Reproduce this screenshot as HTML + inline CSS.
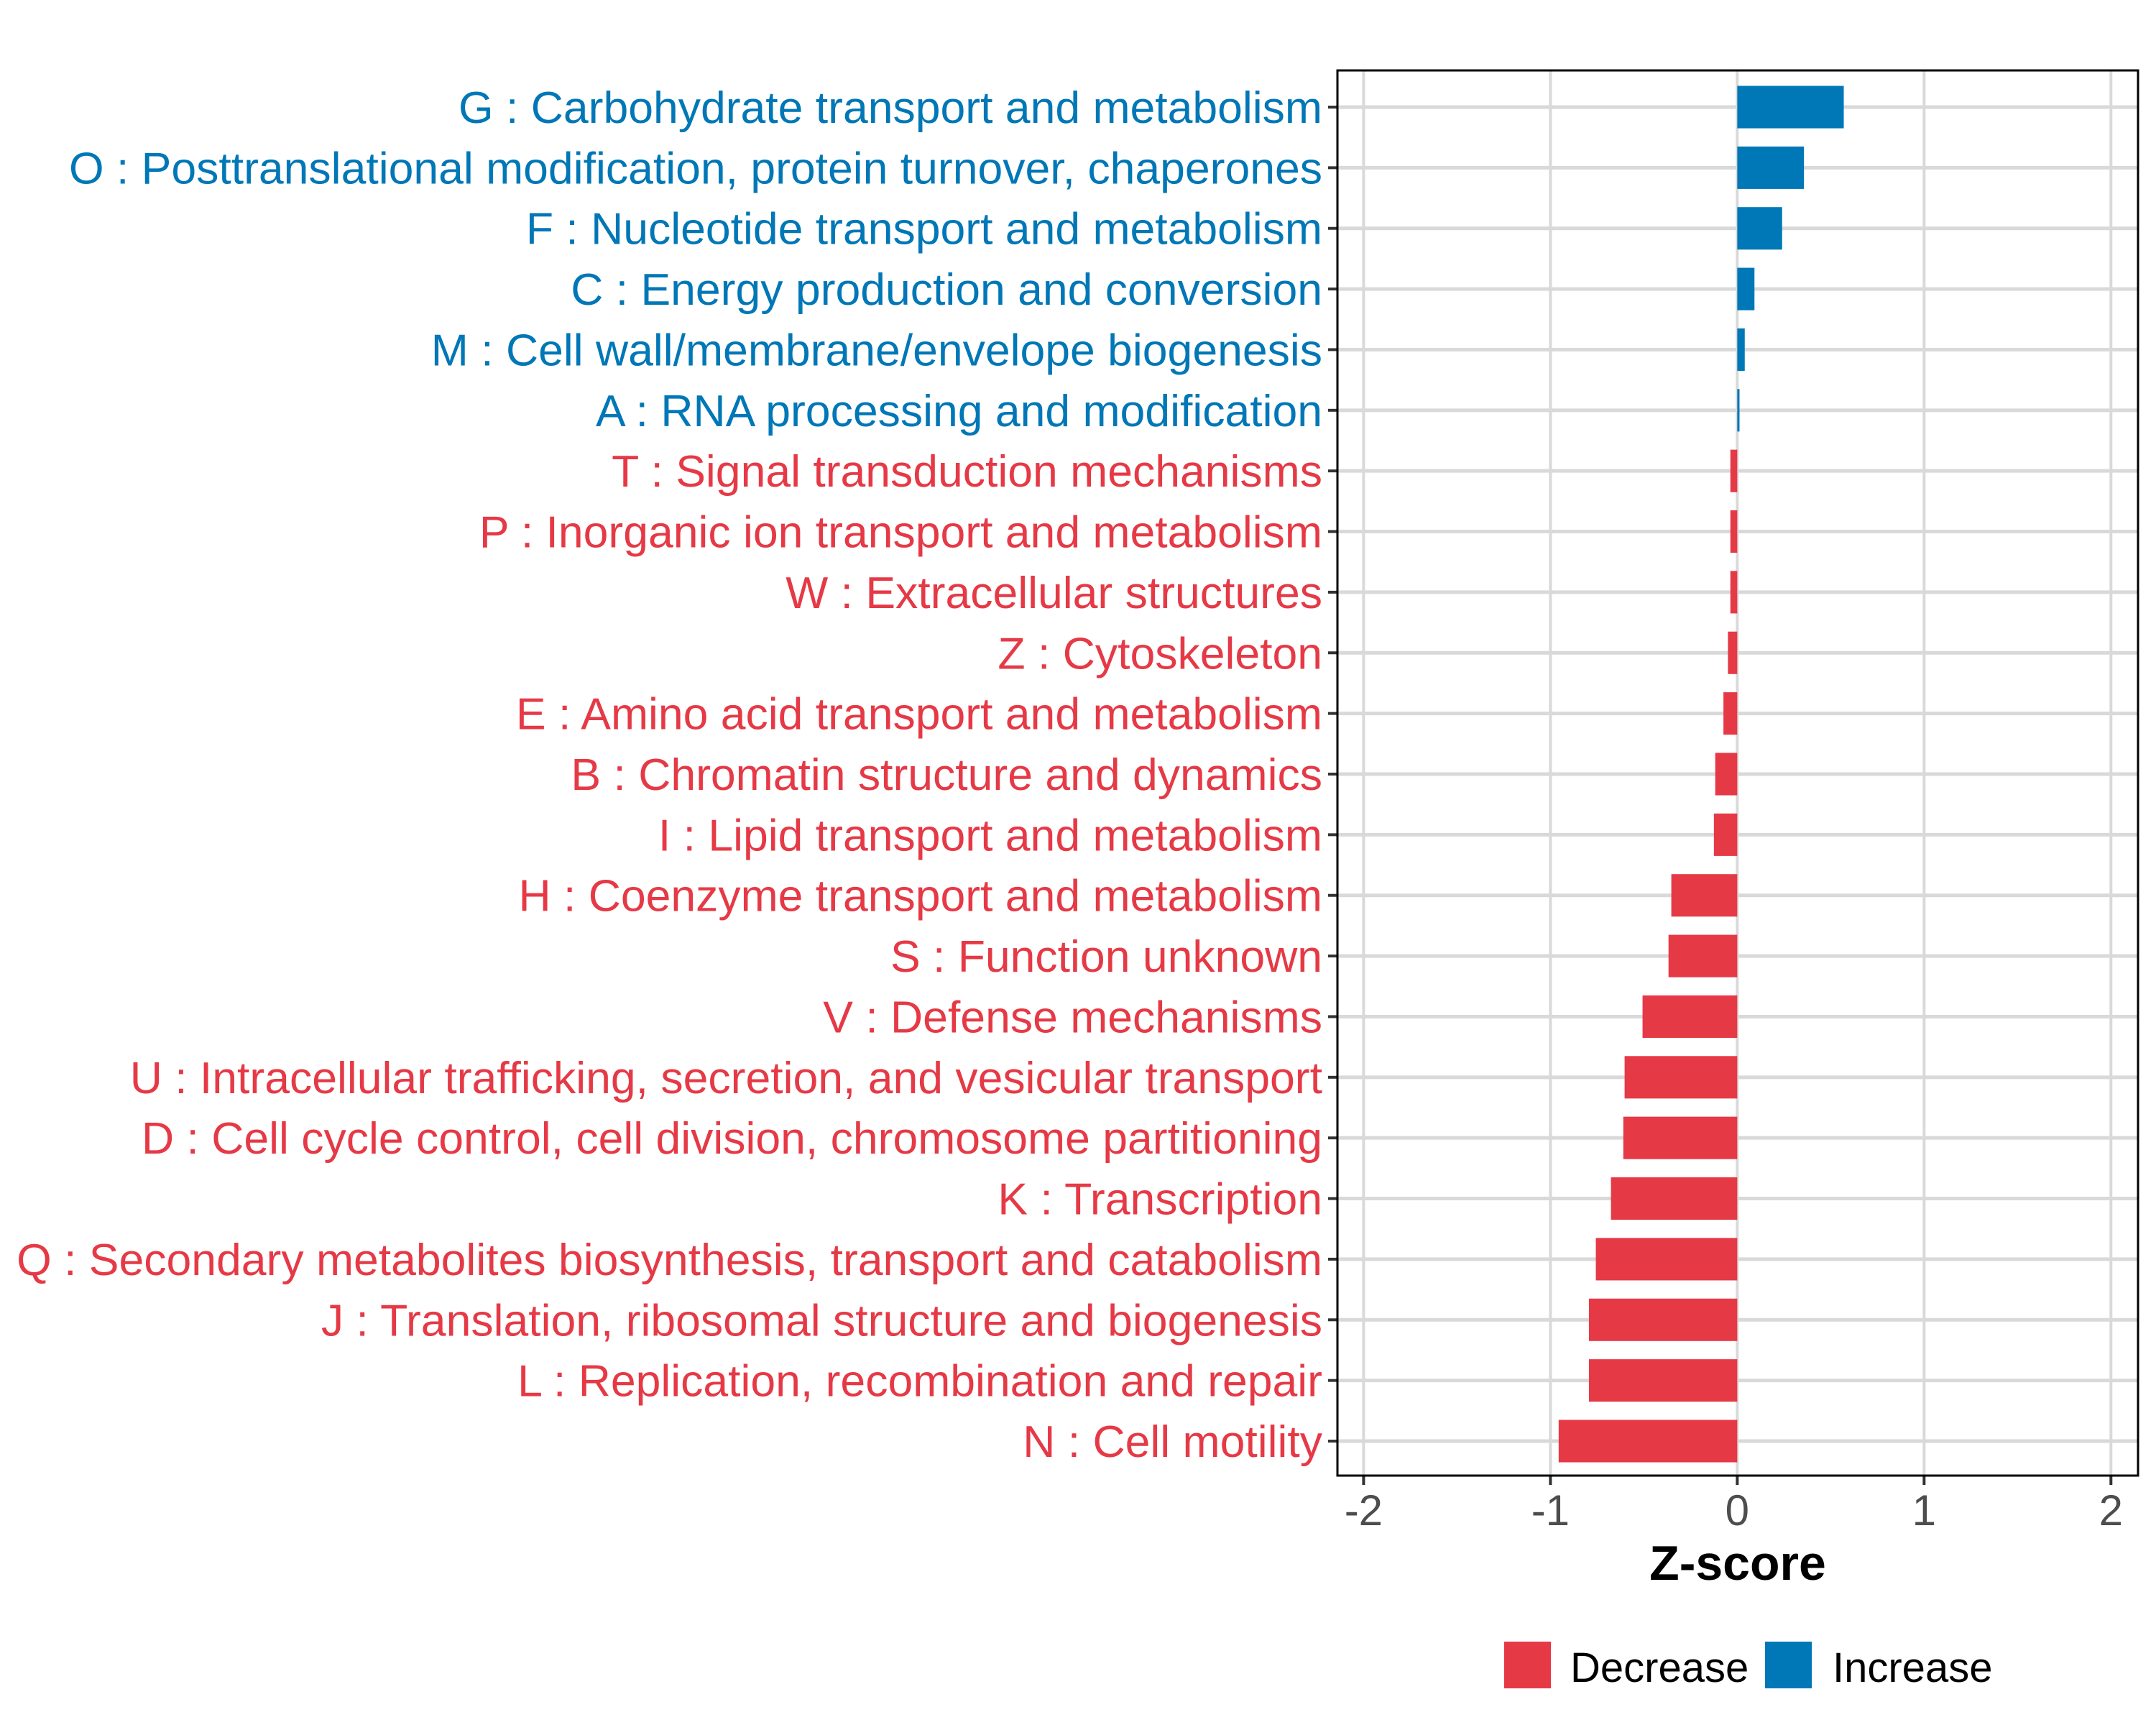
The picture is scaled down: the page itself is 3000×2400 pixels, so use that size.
<!DOCTYPE html>
<html><head><meta charset="utf-8"><style>
html,body{margin:0;padding:0;background:#fff;}
svg{display:block;font-family:"Liberation Sans",Arial,sans-serif;}
</style></head><body>
<svg id="chart" width="3000" height="2400" viewBox="0 0 3000 2400">
<g id="grid"></g>
<g id="bars"></g>
<g id="ylabels"></g>
<g id="xaxis"></g>
<rect x="1861" y="98" width="1114" height="1955" fill="none" stroke="#000" stroke-width="3"/>
<text x="2418" y="2198" text-anchor="middle" font-size="68" font-weight="bold" fill="#000">Z-score</text>
<g>
<rect x="2093" y="2284" width="65" height="65" fill="#E63946"/>
<text x="2185" y="2340" font-size="58" fill="#000">Decrease</text>
<rect x="2456" y="2284" width="65" height="65" fill="#0077B6"/>
<text x="2550" y="2340" font-size="58" fill="#000">Increase</text>
</g>
</svg>
<script>
const categories = ["G : Carbohydrate transport and metabolism","O : Posttranslational modification, protein turnover, chaperones","F : Nucleotide transport and metabolism","C : Energy production and conversion","M : Cell wall/membrane/envelope biogenesis","A : RNA processing and modification","T : Signal transduction mechanisms","P : Inorganic ion transport and metabolism","W : Extracellular structures","Z : Cytoskeleton","E : Amino acid transport and metabolism","B : Chromatin structure and dynamics","I : Lipid transport and metabolism","H : Coenzyme transport and metabolism","S : Function unknown","V : Defense mechanisms","U : Intracellular trafficking, secretion, and vesicular transport","D : Cell cycle control, cell division, chromosome partitioning","K : Transcription","Q : Secondary metabolites biosynthesis, transport and catabolism","J : Translation, ribosomal structure and biogenesis","L : Replication, recombination and repair","N : Cell motility"];
const zscores = [0.57,0.357,0.24,0.092,0.04,0.012,-0.037,-0.037,-0.037,-0.05,-0.074,-0.118,-0.125,-0.353,-0.368,-0.507,-0.603,-0.61,-0.676,-0.757,-0.794,-0.794,-0.956];
const xTicks = [-2,-1,0,1,2];
const xTickLabels = ["-2","-1","0","1","2"];

const NS="http://www.w3.org/2000/svg";
const RED="#E63946", BLUE="#0077B6";
const px0=1861, px1=2975, py0=98, py1=2053;
const xMin=-2.14, xMax=2.145;
function xs(v){return px0+(v-xMin)/(xMax-xMin)*(px1-px0);}
const rowTop=149, rowStep=(2005-149)/(categories.length-1);
function ys(i){return rowTop+i*rowStep;}
function mk(tag,attrs,parent){const e=document.createElementNS(NS,tag);for(const k in attrs)e.setAttribute(k,attrs[k]);parent.appendChild(e);return e;}
const grid=document.getElementById('grid'),bars=document.getElementById('bars'),yl=document.getElementById('ylabels'),xa=document.getElementById('xaxis');
xTicks.forEach((t,i)=>{
  const l=mk('line',{x1:xs(t),x2:xs(t),y1:py0,y2:py1,stroke:'#d9d9d9','stroke-width':4},grid);
  
  
  const tk=mk('line',{x1:xs(t),x2:xs(t),y1:py1,y2:py1+13,stroke:'#333','stroke-width':4},xa);
  
  
  const tx=mk('text',{x:xs(t),y:2122,'text-anchor':'middle','font-size':60,fill:'#4d4d4d'},xa);
  tx.textContent=xTickLabels[i];
  
  
});
categories.forEach((c,i)=>{
  const y=ys(i);
  const g=mk('line',{x1:px0,x2:px1,y1:y,y2:y,stroke:'#d9d9d9','stroke-width':5},grid);
  
  
  const v=zscores[i], col=v>=0?BLUE:RED;
  const x1=xs(Math.min(0,v)), x2=xs(Math.max(0,v));
  const r=mk('rect',{x:x1,y:y-0.35*rowStep,width:Math.max(x2-x1,1),height:0.7*rowStep,fill:col},bars);
  
  
  const tk=mk('line',{x1:px0-13,x2:px0,y1:y,y2:y,stroke:'#333','stroke-width':4},yl);
  
  
  const t=mk('text',{x:1840,y:y+22,'text-anchor':'end','font-size':62.5,fill:col},yl);
  t.textContent=c;
  
  
});
</script>
</body></html>
